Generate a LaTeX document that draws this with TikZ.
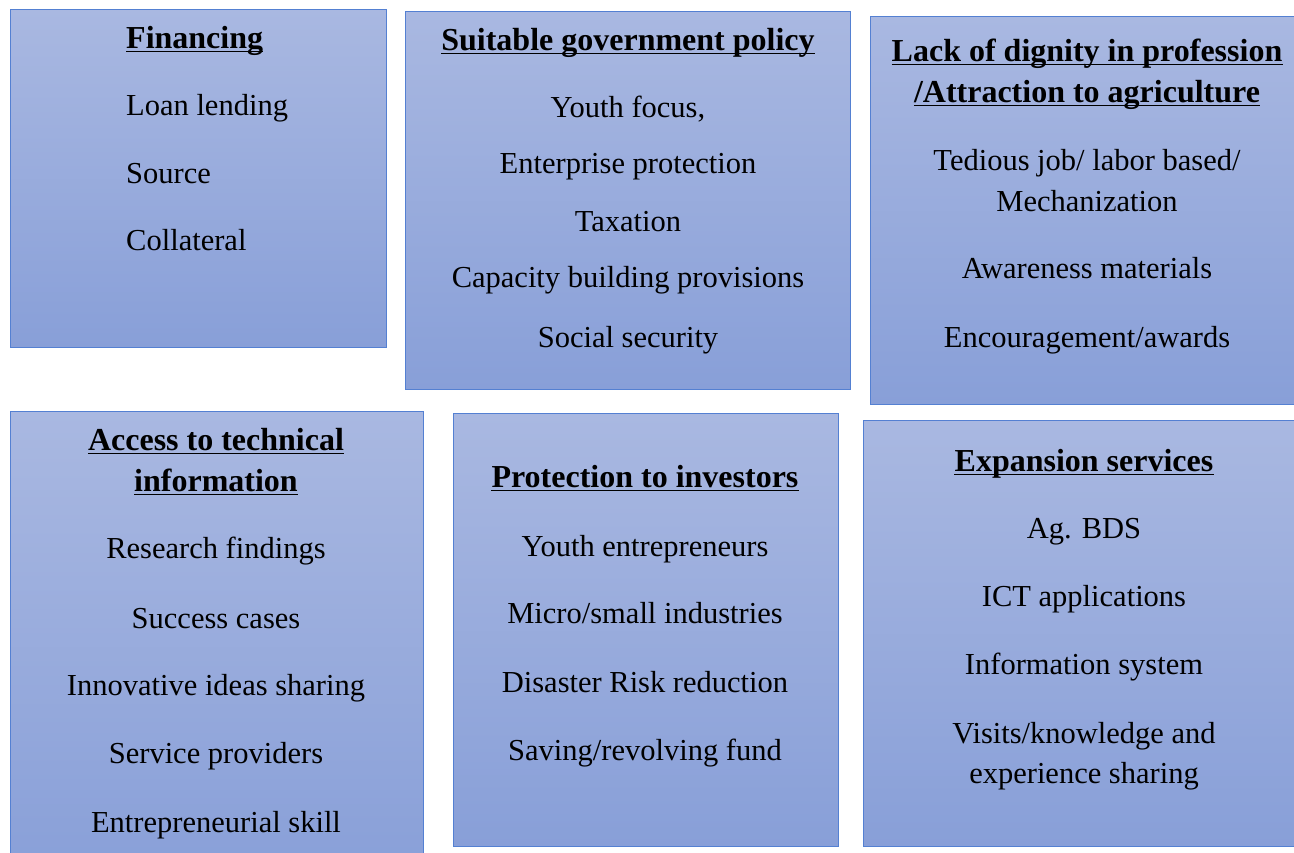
\documentclass[tikz,border=0pt]{standalone}
\usepackage{fontspec}
\setmainfont{Liberation Serif}
\definecolor{boxtop}{RGB}{169,184,225}
\definecolor{boxbot}{RGB}{136,159,216}
\definecolor{boxline}{RGB}{84,128,210}
\tikzset{
  panel/.style={draw=boxline, line width=1.3pt, top color=boxtop, bottom color=boxbot, anchor=north west, inner sep=0pt},
  item/.style={font=\fontsize{30.5}{36}\selectfont, inner sep=0pt, anchor=base},
  itemleft/.style={item, anchor=base west},
  head/.style={font=\fontsize{32}{38}\selectfont\bfseries, inner sep=0pt, anchor=base},
  headleft/.style={head, anchor=base west},
  uline/.style={line width=1.8pt, black}
}
\newcommand{\ul}[1]{\draw[uline] ([yshift=-3.5pt]#1.base west) -- ([yshift=-3.5pt]#1.base east);}
\begin{document}
\begin{tikzpicture}[x=1pt,y=-1pt]
\useasboundingbox (0,0) rectangle (1294,852);
\begin{scope}
\clip (0,0) rectangle (1294,852);
% panels
\node[panel, minimum width=376pt, minimum height=338pt] (p1) at (10,9) {};
\node[panel, minimum width=445pt, minimum height=378pt] (p2) at (405,11) {};
\node[panel, minimum width=460pt, minimum height=388pt] (p3) at (870,16) {};
\node[panel, minimum width=413pt, minimum height=470pt] (p4) at (10,411) {};
\node[panel, minimum width=385pt, minimum height=433pt] (p5) at (453,413) {};
\node[panel, minimum width=470pt, minimum height=426pt] (p6) at (863,420) {};
\end{scope}
% panel 1
\node[headleft] (h1) at (126,48) {Financing}; \ul{h1}
\node[itemleft] (a1) at (126,115) {Loan lending};
\node[itemleft] (a2) at (126,183) {Source};
\node[itemleft] (a3) at (126,250) {Collateral};
% panel 2
\node[head] (h2) at (628,50) {Suitable government policy}; \ul{h2}
\node[item] (b1) at (628,117) {Youth focus,};
\node[item] (b2) at (628,173) {Enterprise protection};
\node[item] (b3) at (628,231) {Taxation};
\node[item] (b4) at (628,287) {Capacity building provisions};
\node[item] (b5) at (628,347) {Social security};
% panel 3
\node[head] (h3a) at (1087,61) {Lack of dignity in profession}; \ul{h3a}
\node[head] (h3b) at (1087,102) {/Attraction to agriculture}; \ul{h3b}
\node[item] (c1) at (1087,170) {Tedious job/ labor based/};
\node[item] (c2) at (1087,211) {Mechanization};
\node[item] (c3) at (1087,278) {Awareness materials};
\node[item] (c4) at (1087,347) {Encouragement/awards};
% panel 4
\node[head] (h4a) at (216,450) {Access to technical}; \ul{h4a}
\node[head] (h4b) at (216,491) {information}; \ul{h4b}
\node[item] (d1) at (216,558) {Research findings};
\node[item] (d2) at (216,628) {Success cases};
\node[item] (d3) at (216,695) {Innovative ideas sharing};
\node[item] (d4) at (216,763) {Service providers};
\node[item] (d5) at (216,832) {Entrepreneurial skill};
% panel 5
\node[head] (h5) at (645,487) {Protection to investors}; \ul{h5}
\node[item] (e1) at (645,556) {Youth entrepreneurs};
\node[item] (e2) at (645,623) {Micro/small industries};
\node[item] (e3) at (645,692) {Disaster Risk reduction};
\node[item] (e4) at (645,760) {Saving/revolving fund};
% panel 6
\node[head] (h6) at (1084,471) {Expansion services}; \ul{h6}
\node[item] (f1) at (1084,538) {Ag. BDS};
\node[item] (f2) at (1084,606) {ICT applications};
\node[item] (f3) at (1084,674) {Information system};
\node[item] (f4) at (1084,743) {Visits/knowledge and};
\node[item] (f5) at (1084,783) {experience sharing};
\end{tikzpicture}
\end{document}
